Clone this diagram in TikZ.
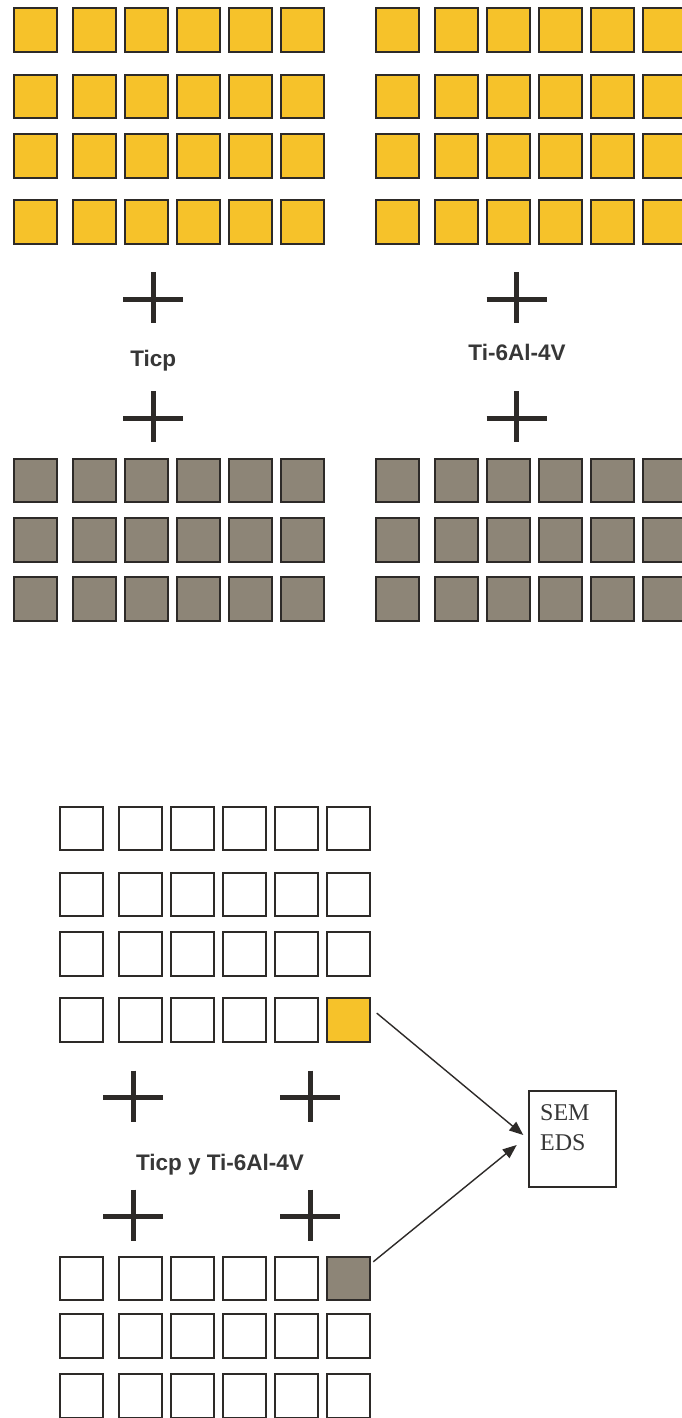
\documentclass[tikz,border=0pt]{standalone}
\usepackage{fontspec}
\setmainfont{Liberation Serif}
\newfontfamily\labfont{Liberation Sans}
\usetikzlibrary{arrows.meta}
\definecolor{ylw}{RGB}{246,194,42}
\definecolor{gry}{RGB}{141,133,119}
\definecolor{edgec}{RGB}{45,42,40}
\definecolor{txtc}{RGB}{55,55,55}
\tikzset{
  cell/.style={draw=edgec, line width=2pt, minimum size=43.5pt, inner sep=0pt},
  ycell/.style={cell, fill=ylw},
  gcell/.style={cell, fill=gry},
  wcell/.style={cell, fill=white},
  plussign/.style={draw=edgec, line width=5pt},
  pls/.pic={\draw[plussign] (-30,0) -- (30,0) (0,-27) -- (0,24);},
  lbl/.style={font=\labfont\bfseries\fontsize{22.5}{26}\selectfont, text=txtc, anchor=base, inner sep=0pt},
  semtext/.style={font=\fontsize{24}{30}\selectfont, text=txtc, anchor=base west, inner sep=0pt},
  boxstyle/.style={draw=edgec, line width=2pt, minimum width=86.4pt, minimum height=95.7pt, inner sep=0pt},
  conn/.style={draw=edgec, line width=1.4pt, -{Triangle[length=14pt,width=11pt]}},
}
\begin{document}
\begin{tikzpicture}[x=1pt,y=-1pt]
\useasboundingbox (0,0) rectangle (682,1418);
\clip (0,0) rectangle (682,1418);
\fill[white] (0,0) rectangle (682,1418);
% top yellow grids
\foreach \r/\t in {1/7.3,2/74,3/133.3,4/199}{
  \foreach \c/\o in {1/0,2/59,3/111,4/163,5/215,6/267}{
    \node[ycell] (tl-\r-\c) at (12.5+\o+22.75, \t+22.75) {};
    \node[ycell] (tr-\r-\c) at (374.5+\o+22.75, \t+22.75) {};
  }
}
% top gray grids
\foreach \r/\t in {1/457.7,2/517.3,3/576}{
  \foreach \c/\o in {1/0,2/59,3/111,4/163,5/215,6/267}{
    \node[gcell] (gl-\r-\c) at (12.5+\o+22.75, \t+22.75) {};
    \node[gcell] (gr-\r-\c) at (374.5+\o+22.75, \t+22.75) {};
  }
}
% plus signs and labels, top
\pic at (153.3,299) {pls};
\pic at (516.5,299) {pls};
\pic at (153.3,418) {pls};
\pic at (516.5,418) {pls};
\node[lbl] (ticp) at (153.3,366.7) {Ticp};
\node[lbl] (tialloy) at (517,360) {Ti-6Al-4V};
% bottom upper grid
\foreach \r/\t in {1/805.7,2/871.7,3/931,4/997.3}{
  \foreach \c/\o in {1/0,2/59,3/111,4/163,5/215,6/267}{
    \ifnum\r\c=46 \def\st{ycell}\else\def\st{wcell}\fi
    \node[\st] (bw-\r-\c) at (58.5+\o+22.75, \t+22.75) {};
  }
}
% bottom lower grid
\foreach \r/\t in {1/1255.7,2/1313.3,3/1373.3}{
  \foreach \c/\o in {1/0,2/59,3/111,4/163,5/215,6/267}{
    \ifnum\r\c=16 \def\st{gcell}\else\def\st{wcell}\fi
    \node[\st] (bg-\r-\c) at (58.5+\o+22.75, \t+22.75) {};
  }
}
\pic at (133.3,1097.5) {pls};
\pic at (310,1097.5) {pls};
\pic at (133.3,1216.5) {pls};
\pic at (310,1216.5) {pls};
\node[lbl] (both) at (220,1170) {Ticp y Ti-6Al-4V};
% SEM/EDS box
\node[boxstyle] (sem) at (572.5,1138.9) {};
\node[semtext] (semA) at (540,1120) {SEM};
\node[semtext] (semB) at (540,1150) {EDS};
% connectors
\draw[conn] ([xshift=5.7pt,yshift=7pt]bw-4-6.east) -- ([xshift=-5pt,yshift=3.9pt]sem.west);
\draw[conn] ([xshift=2.3pt,yshift=16.7pt]bg-1-6.east) -- ([xshift=-11.6pt,yshift=-6.1pt]sem.west);
\end{tikzpicture}
\end{document}
